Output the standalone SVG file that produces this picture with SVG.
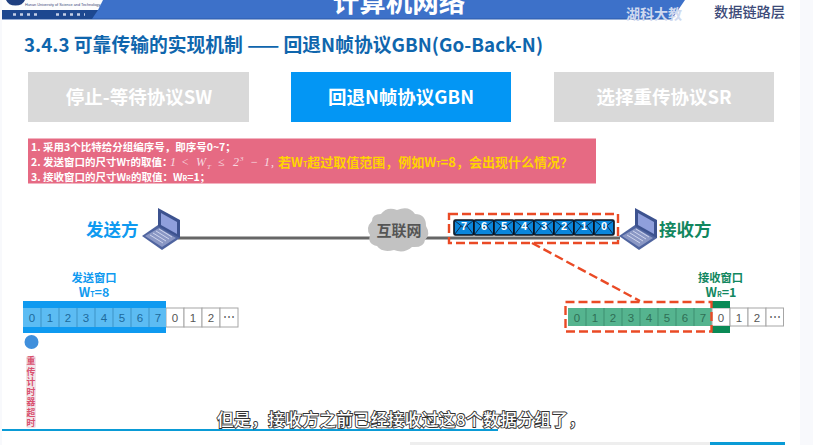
<svg xmlns="http://www.w3.org/2000/svg" width="813" height="445" viewBox="0 0 813 445">
<defs>
<g id="env"><rect x="0" y="0" width="20" height="15" rx="1.5" fill="#0a86dc" stroke="#0b0f18" stroke-width="1.6"/><path d="M0.500 0.500L10 8L19.500 0.500M0.500 14.500L7 6M19.500 14.500L13 6" fill="none" stroke="#0d2a4a" stroke-width="1"/></g>
<g id="laptop"><path d="M0 28L20 42L38 30L38 26L16 17Z" fill="#4f649f"/><path d="M16 0L38 12L38 30L16 18Z" fill="#3c528f"/><path d="M19 5L35 14L35 26L19 17Z" fill="#8f9fdc"/><path d="M3 28L20 39L34 30L17 20Z" fill="#8a97c4"/><path d="M8 27L21 35M11 25L24 33M14 23L27 31M17 21L30 29" stroke="#d5daf0" stroke-width="0.9" fill="none"/></g>
</defs>
<style>
text{font-family:"Noto Sans CJK SC","Liberation Sans",sans-serif}
.tab{font-size:18.500px;font-weight:700;fill:#fff;text-anchor:middle}
.note{font-size:10.500px;font-weight:700;fill:#fff}
.mth{font-size:12px;font-style:italic;fill:#f7dbe0;font-family:"Liberation Serif",serif}
.cell{fill:#fff;stroke:#a6a6a6;stroke-width:1}
.num,.numb,.numg{font-size:11.500px;text-anchor:middle;font-family:"Liberation Sans",sans-serif}
.num{fill:#555}
.numb{fill:#1d6a9c}
.numg{fill:#2f6f55}
.dash{fill:none;stroke:#ea4a25;stroke-width:2.400;stroke-dasharray:9 4}
.sub{font-size:7px}
.lb{font-weight:700;text-anchor:middle;font-size:11.300px}
.lw{font-weight:700;text-anchor:middle;font-size:12.500px}
.blue{fill:#0f9af0}
.green{fill:#12875f}
.pk{font-size:11px;font-weight:700;fill:#fff;text-anchor:middle;font-family:"Liberation Sans",sans-serif}
</style>
<rect width="813" height="445" fill="#fff"/>
<rect x="800" y="0" width="13" height="445" fill="#f8f9fc"/>
<rect x="0" y="0" width="2" height="445" fill="#f8f9fc"/>
<g id="header">
<path d="M2 0H685L672 19H2Z" fill="#3d71c9"/>
<path d="M2 19H672" stroke="#2c5aa8" stroke-width="1"/>
<path d="M2 0H103L98 10H2Z" fill="#fdfdfd"/>
<path d="M2 10H98L92 19H2Z" fill="#1d4890"/>
<path d="M6 0A10 8 0 0 0 25 0Z" fill="#1f3f80"/>
<path d="M13 14.500H40M56 14.500H85" stroke="#c4cee6" stroke-width="2.500" stroke-dasharray="3 4"/>
<text x="25" y="6" font-size="3.800" fill="#3a4a78" style="font-family:'Liberation Sans'">Hunan University of Science and Technology</text>
<text x="399" y="12" font-size="26.500" font-weight="700" fill="#fff" text-anchor="middle">计算机网络</text>
<text x="626" y="19" font-size="14" font-weight="700" fill="#cfd9ef">湖科大教</text>
<text x="714" y="17" font-size="14.200" font-weight="500" fill="#3c4a78">数据链路层</text>
</g>
<text id="title" x="24" y="52" font-size="18.800" font-weight="700" fill="#0f66ad" textLength="519">3.4.3 可靠传输的实现机制 —— 回退N帧协议GBN(Go-Back-N)</text>
<g id="tab-sw"><rect x="28" y="72" width="221" height="50" fill="#d9d9d9"/><text class="tab" x="139" y="104">停止-等待协议SW</text></g>
<g id="tab-gbn"><rect x="291" y="72" width="220" height="50" fill="#0396f4"/><text class="tab" x="401" y="104">回退N帧协议GBN</text></g>
<g id="tab-sr"><rect x="554" y="72" width="220" height="50" fill="#d9d9d9"/><text class="tab" x="664" y="104">选择重传协议SR</text></g>
<g id="notes">
<rect x="28" y="138.500" width="568" height="45" fill="#e66a83"/>
<text class="note" x="31" y="151">1. 采用3个比特给分组编序号，即序号0~7；</text>
<text class="note" x="31" y="166">2. 发送窗口的尺寸W<tspan class="sub">T</tspan>的取值：</text>
<text class="mth" y="166"><tspan x="170">1</tspan><tspan x="181">&lt;</tspan><tspan x="196">W</tspan><tspan x="207" dy="3" font-size="7">T</tspan><tspan x="218" dy="-3">≤</tspan><tspan x="233">2</tspan><tspan x="240" dy="-5" font-size="7">3</tspan><tspan x="250" dy="5">−</tspan><tspan x="264">1</tspan><tspan x="271" font-style="normal">,</tspan></text>
<text x="278" y="167" font-size="13" font-weight="700" fill="#ffd400" textLength="295">若W<tspan class="sub">T</tspan>超过取值范围，例如W<tspan class="sub">T</tspan>=8，会出现什么情况？</text>
<text class="note" x="31" y="181">3. 接收窗口的尺寸W<tspan class="sub">R</tspan>的取值：W<tspan class="sub">R</tspan>=1；</text>
</g>
<g id="connectors">
<path d="M178 238H372M424 238H620" stroke="#666" stroke-width="3" fill="none"/>
<rect class="dash" x="449" y="214" width="169" height="29"/>
<path class="dash" d="M532 243L640 301"/>
</g>
<g id="sender"><text x="86" y="236" font-size="17.500" font-weight="700" fill="#0f9af0">发送方</text><use href="#laptop" transform="translate(142 208)"/></g>
<g id="receiver"><text x="659" y="236" font-size="17.500" font-weight="700" fill="#12875f">接收方</text><use href="#laptop" transform="translate(619 208)"/></g>
<g id="internet"><path d="M372 221Q372 214 381 214Q387 206 397 210Q409 205 415 214Q426 214 426 226Q431 234 425 240Q424 248 412 247Q404 254 394 250Q382 253 377 246Q367 244 370 235Q365 228 372 221Z" fill="#c2c2c2"/><text x="399" y="236" font-size="15" font-weight="700" fill="#555" text-anchor="middle">互联网</text></g>
<g id="packets">
<use href="#env" transform="translate(454 220)"/><use href="#env" transform="translate(474 220)"/><use href="#env" transform="translate(494 220)"/><use href="#env" transform="translate(514 220)"/><use href="#env" transform="translate(534 220)"/><use href="#env" transform="translate(554 220)"/><use href="#env" transform="translate(574 220)"/><use href="#env" transform="translate(594 220)"/>
<text class="pk" x="464" y="230">7</text><text class="pk" x="484" y="230">6</text><text class="pk" x="504" y="230">5</text><text class="pk" x="524" y="230">4</text><text class="pk" x="544" y="230">3</text><text class="pk" x="564" y="230">2</text><text class="pk" x="584" y="230">1</text><text class="pk" x="604" y="230">0</text>
</g>
<g id="send-window">
<text class="lb blue" x="94" y="282">发送窗口</text>
<text class="lw blue" x="94" y="297">W<tspan class="sub">T</tspan>=8</text>
<rect class="cell" x="166" y="308" width="18" height="19"/><rect class="cell" x="184" y="308" width="18" height="19"/><rect class="cell" x="202" y="308" width="18" height="19"/><rect class="cell" x="220" y="308" width="18" height="19"/>
<text class="num" x="175" y="322">0</text><text class="num" x="193" y="322">1</text><text class="num" x="211" y="322">2</text><text class="num" x="229" y="321">⋯</text>
<rect x="23" y="301" width="143" height="7" fill="#0f9af0"/><rect x="23" y="327" width="143" height="6" fill="#0f9af0"/>
<rect x="23" y="308" width="143" height="19" fill="#5cbcf3"/>
<path d="M41 308V327M59 308V327M77 308V327M95 308V327M113 308V327M131 308V327M149 308V327" stroke="#3d93c6" stroke-width="1"/>
<text class="numb" x="32" y="322">0</text><text class="numb" x="50" y="322">1</text><text class="numb" x="68" y="322">2</text><text class="numb" x="86" y="322">3</text><text class="numb" x="104" y="322">4</text><text class="numb" x="122" y="322">5</text><text class="numb" x="140" y="322">6</text><text class="numb" x="158" y="322">7</text>
</g>
<g id="timer">
<circle cx="31.500" cy="342" r="7" fill="#3f8fdc"/>
<rect x="26" y="356" width="10" height="72" rx="2" fill="#f2e4e8"/>
<text x="31" y="356.500" font-size="8.800" font-weight="700" fill="#d9506f" style="writing-mode:vertical-rl;letter-spacing:1.500px">重传计时器超时</text>
</g>
<g id="recv-window">
<text class="lb green" x="720.500" y="282">接收窗口</text>
<text class="lw green" x="721" y="297">W<tspan class="sub">R</tspan>=1</text>
<rect x="568" y="308" width="144" height="18" fill="#55b48f"/>
<path d="M586 308V326M604 308V326M622 308V326M640 308V326M658 308V326M676 308V326M694 308V326" stroke="#3f8f70" stroke-width="1"/>
<text class="numg" x="577" y="321.500">0</text><text class="numg" x="595" y="321.500">1</text><text class="numg" x="613" y="321.500">2</text><text class="numg" x="631" y="321.500">3</text><text class="numg" x="649" y="321.500">4</text><text class="numg" x="667" y="321.500">5</text><text class="numg" x="685" y="321.500">6</text><text class="numg" x="703" y="321.500">7</text>
<rect class="cell" x="712" y="308" width="18" height="18"/><rect class="cell" x="730" y="308" width="18" height="18"/><rect class="cell" x="748" y="308" width="18" height="18"/><rect class="cell" x="766" y="308" width="17.500" height="18"/>
<text class="num" x="721" y="321.500">0</text><text class="num" x="739" y="321.500">1</text><text class="num" x="757" y="321.500">2</text><text class="num" x="775" y="321">⋯</text>
<rect x="712" y="301" width="18" height="7" fill="#0a8a56"/><rect x="712" y="326" width="18" height="7" fill="#0a8a56"/>
<rect class="dash" x="565.500" y="302" width="146" height="29.500"/>
</g>
<g id="player">
<rect x="2" y="429" width="496" height="2" fill="#0a9bd6"/>
<rect x="410" y="442" width="300" height="3" fill="#eeeeee"/><rect x="710" y="442" width="75" height="3" fill="#0a9bd6"/>
</g>
<text id="caption" x="217" y="426" font-size="16.500" font-weight="500" fill="#fff" stroke="#333" stroke-width="1.800" paint-order="stroke" textLength="368">但是，接收方之前已经接收过这8个数据分组了，</text>
</svg>
